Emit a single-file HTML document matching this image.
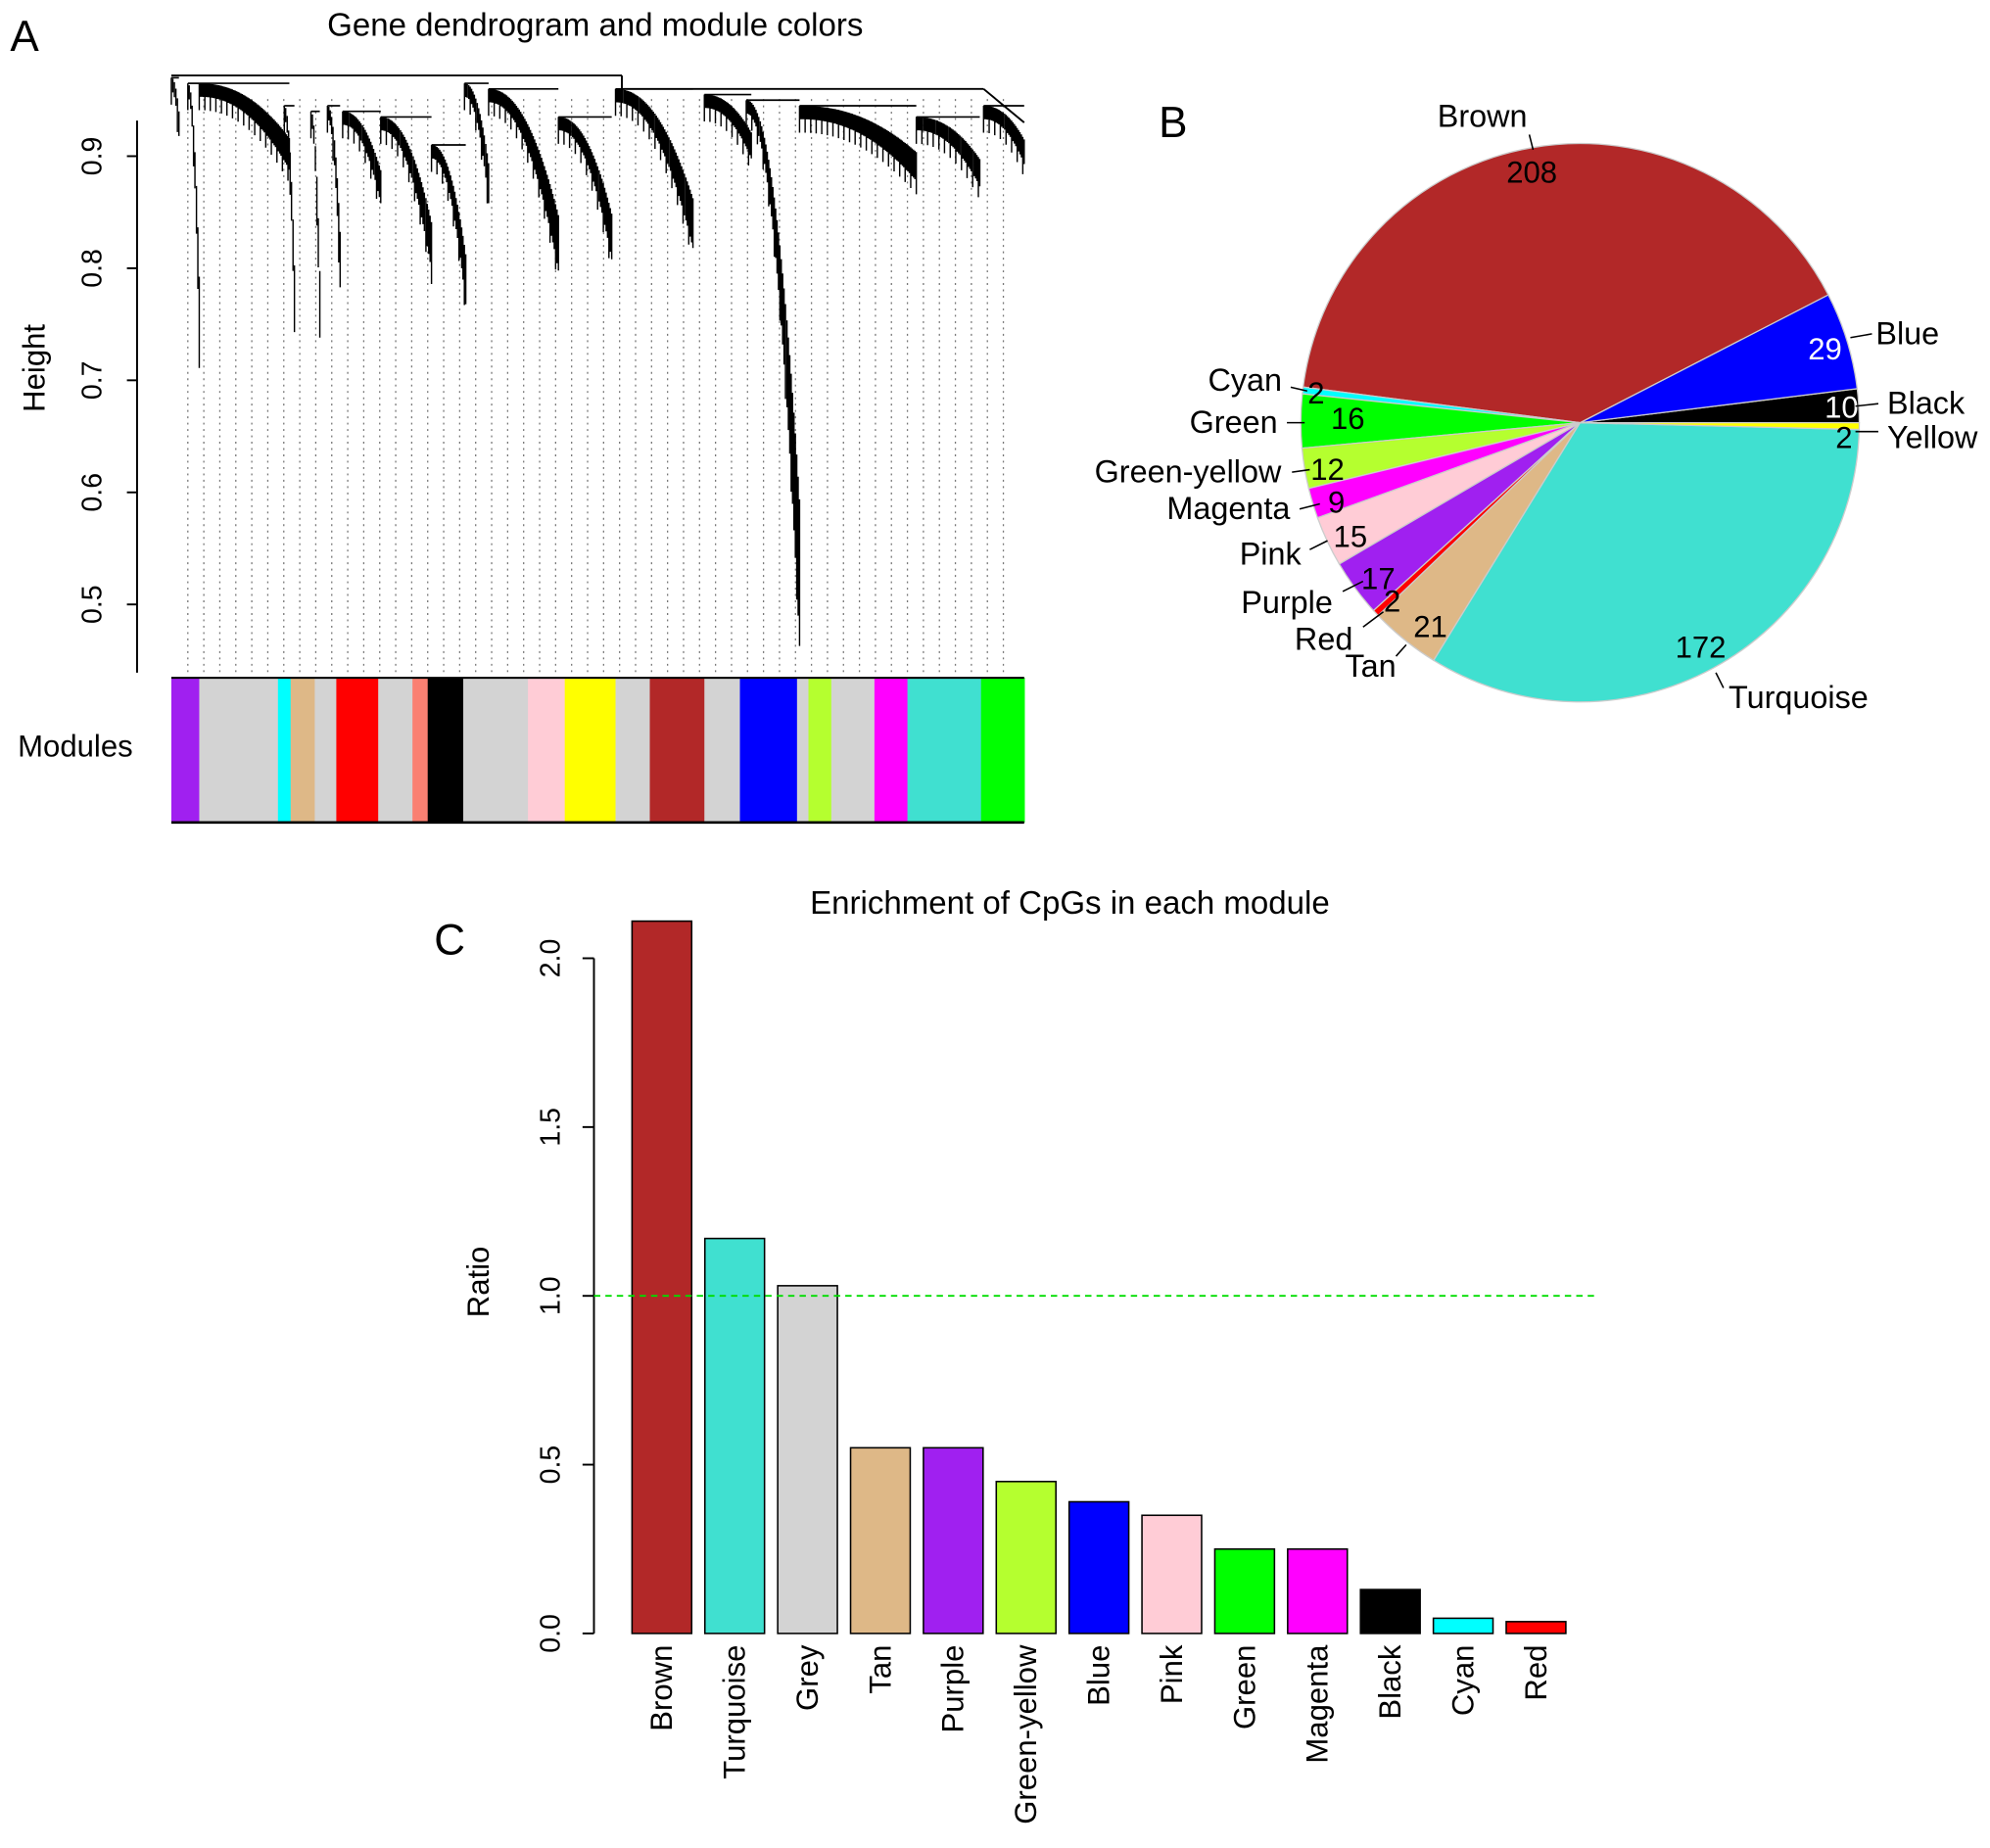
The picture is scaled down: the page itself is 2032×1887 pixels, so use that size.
<!DOCTYPE html>
<html><head><meta charset="utf-8">
<style>
html,body{margin:0;padding:0;background:#fff;}
svg{display:block;font-family:"Liberation Sans",Arial,sans-serif;}
</style></head>
<body>
<svg id="fig" width="2032" height="1887" viewBox="0 0 1568 1456" xmlns="http://www.w3.org/2000/svg">
<g id="panelA">
<text x="8" y="40" font-size="34">A</text>
<text x="469" y="28" font-size="25.5" text-anchor="middle">Gene dendrogram and module colors</text>
<text transform="translate(35,290) rotate(-90)" font-size="24" text-anchor="middle">Height</text>
<text x="14" y="596" font-size="24">Modules</text>
<g id="dotted"></g>
<g id="dendro"></g>
<g id="yaxisA"></g>
<g id="modbar"></g>
</g>
<g id="panelB">
<text x="913" y="108" font-size="34">B</text>
<g id="pie"></g>
</g>
<g id="panelC">
<text x="342" y="752" font-size="34">C</text>
<text x="843" y="720" font-size="25.5" text-anchor="middle">Enrichment of CpGs in each module</text>
<text transform="translate(385,1010) rotate(-90)" font-size="24" text-anchor="middle">Ratio</text>
<g id="bars"></g>
</g>
</svg>
<script>
// ---- Bar chart data ----
const barCats = ["Brown","Turquoise","Grey","Tan","Purple","Green-yellow","Blue","Pink","Green","Magenta","Black","Cyan","Red"];
const barVals = [2.11,1.17,1.03,0.55,0.55,0.45,0.39,0.35,0.25,0.25,0.13,0.045,0.035];
const barColors = ["#B22828","#40E0D0","#D3D3D3","#DEB887","#A020F0","#B5FF2F","#0000FF","#FFCCD6","#00FF00","#FF00FF","#000000","#00FFFF","#FF0000"];
const barTicks = [0,0.5,1,1.5,2];
const barTickLabels = ["0.0","0.5","1.0","1.5","2.0"];
const refLine = 1.0;
// ---- Pie data ----
const pieCats = ["Black","Blue","Brown","Cyan","Green","Green-yellow","Magenta","Pink","Purple","Red","Tan","Turquoise","Yellow"];
const pieVals = [10,29,208,2,16,12,9,15,17,2,21,172,2];
const pieColors = ["#000000","#0000FF","#B22828","#00FFFF","#00FF00","#B5FF2F","#FF00FF","#FFCCD6","#A020F0","#FF0000","#DEB887","#40E0D0","#FFFF00"];
// ---- Dendrogram axis ----
const heightTicks = [0.5,0.6,0.7,0.8,0.9];
const modColors = ["#A020F0","#D3D3D3","#00FFFF","#DEB887","#D3D3D3","#FF0000","#D3D3D3","#FA8072","#000000","#D3D3D3","#FFCCD6","#FFFF00","#D3D3D3","#B22828","#D3D3D3","#0000FF","#D3D3D3","#B5FF2F","#D3D3D3","#FF00FF","#40E0D0","#00FF00"];
const modWidths = [22,62,10,19,17,33,27,12,28,51,29,40,27,43,28,45,9,18,34,26,58,34];
// dendrogram clusters: [x0,x1, topHeight, minHeight]
const clusters = [
 [135,141,0.97,0.93],[148,157,0.965,0.735],[157,228,0.965,0.90],[224,232,0.945,0.755],
 [245,252,0.94,0.75],[258,268,0.945,0.795],[270,300,0.94,0.87],[300,340,0.935,0.81],
 [340,367,0.91,0.78],[366,385,0.965,0.87],[385,440,0.96,0.81],[440,482,0.935,0.82],
 [485,546,0.96,0.83],[555,592,0.955,0.91],[588,630,0.95,0.475],[630,722,0.945,0.89],
 [722,772,0.935,0.885],[775,807,0.945,0.905]
];
const NS="http://www.w3.org/2000/svg";
function mk(tag,attrs,parent,name){const e=document.createElementNS(NS,tag);for(const k in attrs)e.setAttribute(k,attrs[k]);
 
 
 parent.appendChild(e);return e;}

// ---- Panel A ----
const hY = h => 123 + (0.9-h)*883;
const yA = document.getElementById('yaxisA');
mk('line',{x1:108,y1:530,x2:108,y2:95,stroke:'#000','stroke-width':1.5},yA,'y-axis-line');
heightTicks.forEach(t=>{
 const y=hY(t);
 mk('line',{x1:100,y1:y,x2:108,y2:y,stroke:'#000','stroke-width':1.5},yA,'y-tick');
 const tx=mk('text',{transform:`translate(80,${y}) rotate(-90)`,'font-size':22,'text-anchor':'middle'},yA,'y-tick-label');
 tx.textContent=t.toFixed(1);
});
const dot=document.getElementById('dotted');
for(let x=148;x<=802;x+=12.6){
 mk('line',{x1:x,y1:78,x2:x,y2:530,stroke:'#777','stroke-width':1,'stroke-dasharray':'1.5,3.5'},dot,'leaf-guide');
}
const dg=document.getElementById('dendro');
mk('line',{x1:135,y1:hY(0.972),x2:490,y2:hY(0.972),stroke:'#000','stroke-width':1.5},dg,'top-merge');
mk('line',{x1:490,y1:hY(0.972),x2:490,y2:hY(0.96),stroke:'#000','stroke-width':1.5},dg,'top-merge');
mk('line',{x1:490,y1:hY(0.96),x2:775,y2:hY(0.96),stroke:'#000','stroke-width':1.5},dg,'top-merge');
mk('line',{x1:775,y1:hY(0.96),x2:807,y2:hY(0.93),stroke:'#000','stroke-width':1.5},dg,'top-merge');
clusters.forEach(c=>{
 const [x0,x1,top,low]=c;
 mk('line',{x1:x0,y1:hY(top),x2:x1,y2:hY(top),stroke:'#000','stroke-width':1.3},dg,'cluster-merge');
 let d='';
 const n=Math.max(2,Math.round((x1-x0)/1.1));
 for(let i=0;i<=n;i++){
  const t=i/n, x=x0+(x1-x0)*t;
  const comb = (i%4===0)?0.012:0.0;
  const span = top-low;
  const start = top - span*Math.pow(t,2.2)*0.75;
  const h = top-0.012 - span*Math.pow(t,2.2) - comb;
  d+=`M${x.toFixed(1)} ${hY(start).toFixed(1)}V${hY(Math.min(h,start-0.01)).toFixed(1)}`;
 }
 mk('path',{d:d,stroke:'#000','stroke-width':1.1,fill:'none'},dg,'cluster-leaves');
});
const mb=document.getElementById('modbar');
let mx=135;
modColors.forEach((col,i)=>{
 mk('rect',{x:mx,y:534,width:modWidths[i]+0.5,height:114,fill:col},mb,'module-'+i);
 mx+=modWidths[i];
});
mk('line',{x1:135,y1:534,x2:807,y2:534,stroke:'#000','stroke-width':1.5},mb,'module-bar-top');
mk('line',{x1:135,y1:648,x2:807,y2:648,stroke:'#000','stroke-width':2},mb,'module-bar-bottom');

// ---- Panel B: pie ----
const pg=document.getElementById('pie');
const cx=1245, cy=333, R=220;
const total=pieVals.reduce((a,b)=>a+b,0);
let a0=0;
pieVals.forEach((v,i)=>{
 const a1=a0+v/total*2*Math.PI;
 const p0=[cx+R*Math.cos(a0),cy-R*Math.sin(a0)], p1=[cx+R*Math.cos(a1),cy-R*Math.sin(a1)];
 const large=(a1-a0)>Math.PI?1:0;
 mk('path',{d:`M${cx} ${cy}L${p0[0]} ${p0[1]}A${R} ${R} 0 ${large} 0 ${p1[0]} ${p1[1]}Z`,fill:pieColors[i],stroke:'#ccc','stroke-width':1},pg,'pie-slice-'+pieCats[i].toLowerCase());
 a0=a1;
});
const pieLabels=[
 ["Brown",1168,100,"middle","208",1207,144,"#000",[1205,106,1208,118]],
 ["Blue",1478,271,"start","29",1438,283,"#fff",[1458,266,1475,263]],
 ["Black",1487,326,"start","10",1451,329,"#fff",[1462,320,1480,318]],
 ["Yellow",1487,353,"start","2",1453,353,"#000",[1462,340,1480,340]],
 ["Turquoise",1362,558,"start","172",1340,518,"#000",[1352,530,1358,542]],
 ["Tan",1080,533,"middle","21",1127,502,"#000",[1100,517,1108,508]],
 ["Red",1043,512,"middle","2",1097,482,"#000",[1074,494,1090,482]],
 ["Purple",1014,483,"middle","17",1086,464,"#000",[1058,466,1074,458]],
 ["Pink",1001,445,"middle","15",1064,431,"#000",[1032,433,1046,426]],
 ["Magenta",968,409,"middle","9",1053,404,"#000",[1024,401,1040,397]],
 ["Green-yellow",936,380,"middle","12",1046,378,"#000",[1018,372,1032,370]],
 ["Green",972,341,"middle","16",1062,338,"#000",[1014,333,1028,333]],
 ["Cyan",981,308,"middle","2",1037,318,"#000",[1017,305,1030,308]]
];
pieLabels.forEach(l=>{
 const t=mk('text',{x:l[1],y:l[2],'font-size':25,'text-anchor':l[3]},pg,'pie-label-'+l[0].toLowerCase());
 t.textContent=l[0];
 const c=mk('text',{x:l[5],y:l[6],'font-size':24,'text-anchor':'middle',fill:l[7]},pg,'pie-count-'+l[0].toLowerCase());
 c.textContent=l[4];
 const L=l[8];
 mk('line',{x1:L[0],y1:L[1],x2:L[2],y2:L[3],stroke:'#000','stroke-width':1.2},pg,'pie-leader');
});

// ---- Panel C: bars ----
const bg=document.getElementById('bars');
const yC = v => 1287 - v*266;
const xC = i => 498 + i*57.4;
const bw = 47;
mk('line',{x1:468,y1:yC(0),x2:468,y2:yC(2),stroke:'#000','stroke-width':1.5},bg,'y-axis-line');
barTicks.forEach((t,i)=>{
 const y=yC(t);
 mk('line',{x1:459,y1:y,x2:468,y2:y,stroke:'#000','stroke-width':1.5},bg,'y-tick');
 const tx=mk('text',{transform:`translate(441,${y}) rotate(-90)`,'font-size':22,'text-anchor':'middle'},bg,'y-tick-label');
 tx.textContent=barTickLabels[i];
});
barVals.forEach((v,i)=>{
 mk('rect',{x:xC(i),y:yC(v),width:bw,height:yC(0)-yC(v),fill:barColors[i],stroke:'#000','stroke-width':1.2},bg,'bar-'+barCats[i].toLowerCase());
 const t=mk('text',{transform:`translate(${xC(i)+bw/2+8},1296) rotate(-90)`,'font-size':24,'text-anchor':'end'},bg,'x-label-'+barCats[i].toLowerCase());
 t.textContent=barCats[i];
});
mk('line',{x1:468,y1:yC(refLine),x2:1260,y2:yC(refLine),stroke:'#00DD00','stroke-width':1.5,'stroke-dasharray':'5,4'},bg,'reference-line');
</script>
</body></html>
